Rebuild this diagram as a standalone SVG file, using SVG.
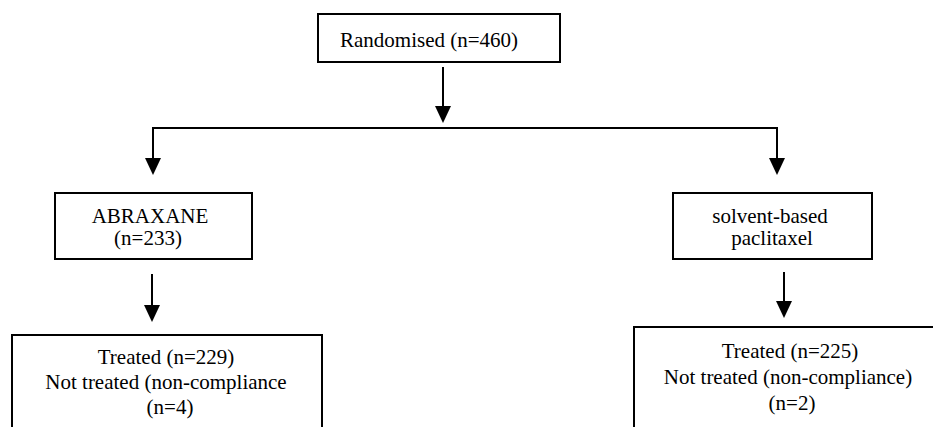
<svg xmlns="http://www.w3.org/2000/svg" width="933" height="427" viewBox="0 0 933 427">
<style>
.box{fill:#fff;stroke:#000;stroke-width:2}
text{font-family:'Liberation Serif','Times New Roman','DejaVu Serif',serif;font-size:21px;fill:#000}
.c{text-anchor:middle}
.conn{fill:none;stroke:#000;stroke-width:2}
</style>
<defs>
<marker id="ah" markerUnits="userSpaceOnUse" markerWidth="17" markerHeight="16" viewBox="0 0 17 16" refX="13" refY="8" orient="auto">
<path d="M0,0 L17,8 L0,16 z" fill="#000"/>
</marker>
</defs>
<rect width="933" height="427" fill="#fff"/>
<g id="connectors">
<path class="conn" d="M443,67 V119" marker-end="url(#ah)"/>
<path class="conn" d="M443,128 H153 V171" marker-end="url(#ah)"/>
<path class="conn" d="M443,128 H777 V171" marker-end="url(#ah)"/>
<path class="conn" d="M152,274 V318" marker-end="url(#ah)"/>
<path class="conn" d="M784,272 V314" marker-end="url(#ah)"/>
</g>
<g id="randomised">
<rect class="box" x="318" y="14" width="242" height="48"/>
<text font-family="Liberation Serif, serif" x="340" y="47">Randomised (n=460)</text>
</g>
<g id="abraxane">
<rect class="box" x="55" y="193" width="197" height="66"/>
<text class="c" font-family="Liberation Serif, serif" x="150" y="223">ABRAXANE</text>
<text class="c" font-family="Liberation Serif, serif" x="148" y="245">(n=233)</text>
</g>
<g id="solvent">
<rect class="box" x="673" y="193" width="199" height="66"/>
<text class="c" font-family="Liberation Serif, serif" x="770" y="223">solvent-based</text>
<text class="c" font-family="Liberation Serif, serif" x="772" y="245">paclitaxel</text>
</g>
<g id="treated-left">
<path class="box" d="M12,440 V335 H322 V440"/>
<text class="c" font-family="Liberation Serif, serif" x="166" y="364">Treated (n=229)</text>
<text class="c" font-family="Liberation Serif, serif" x="166" y="389">Not treated (non-compliance</text>
<text class="c" font-family="Liberation Serif, serif" x="170" y="414">(n=4)</text>
</g>
<g id="treated-right">
<path class="box" d="M634,440 V327 H945"/>
<text class="c" font-family="Liberation Serif, serif" x="790" y="358">Treated (n=225)</text>
<text class="c" font-family="Liberation Serif, serif" x="788" y="384">Not treated (non-compliance)</text>
<text class="c" font-family="Liberation Serif, serif" x="792" y="410">(n=2)</text>
</g>
</svg>
